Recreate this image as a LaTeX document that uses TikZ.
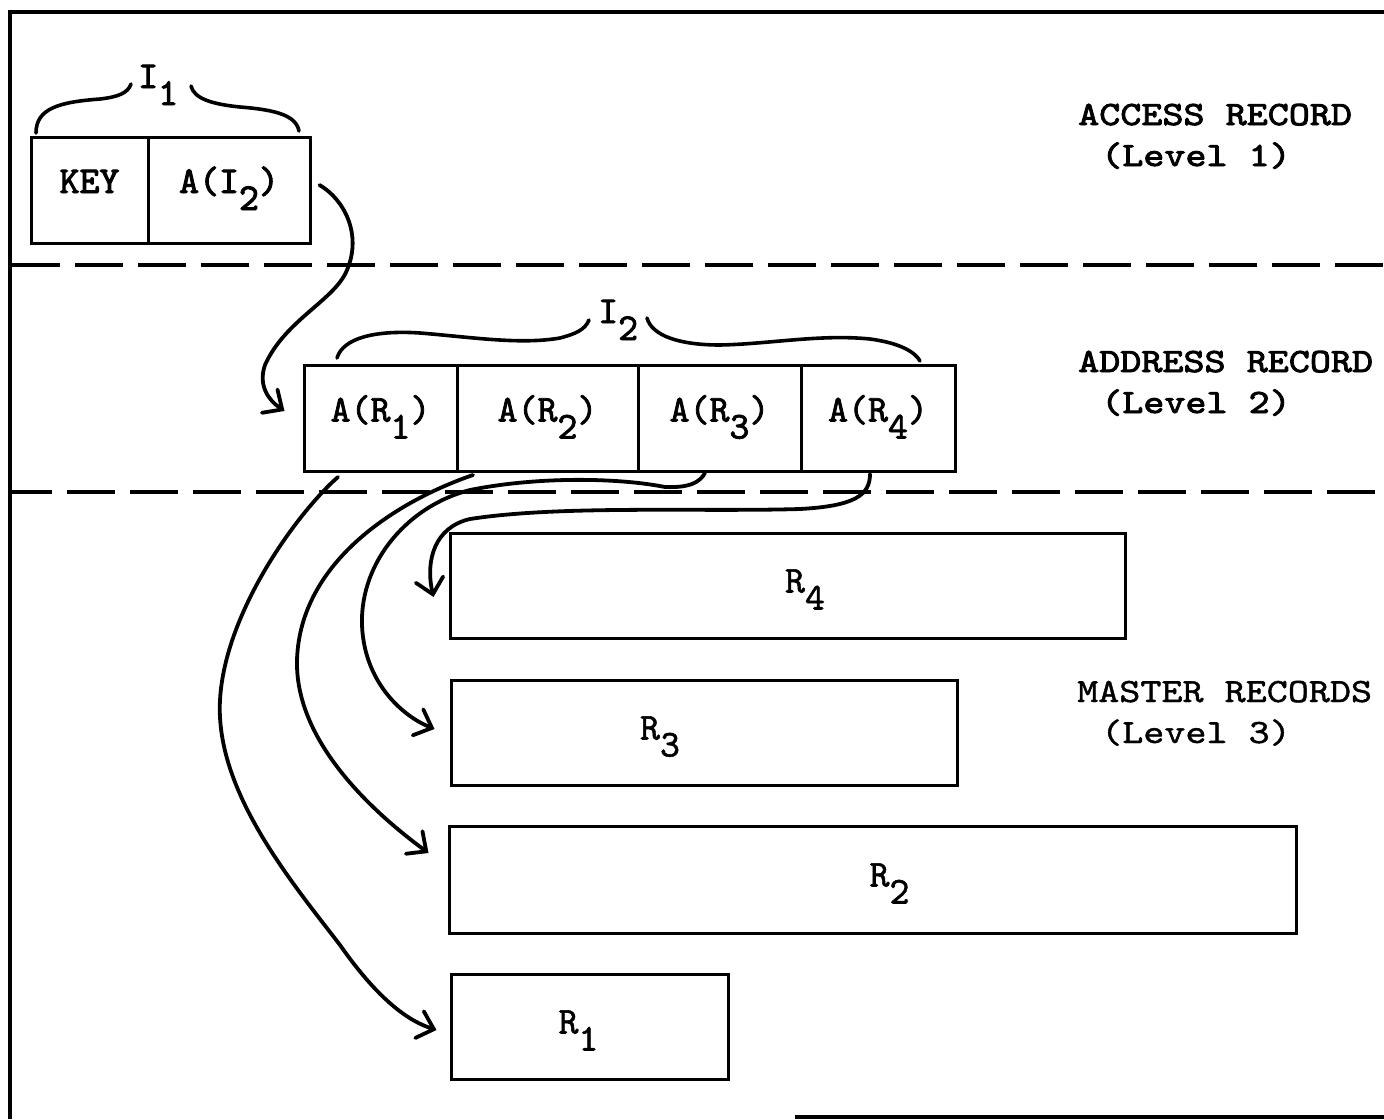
\documentclass[tikz,border=0pt]{standalone}
\usepackage{fontspec}
\usetikzlibrary{arrows.meta,calc}
% typewriter faces: widened for the level captions, plain for the record fields
\newfontfamily\sidefont{lmmono10-regular.otf}[FakeStretch=1.18,FakeBold=1.2]
\newfontfamily\sideheavy{lmmono10-regular.otf}[FakeStretch=1.18,FakeBold=2.6]
\newfontfamily\fieldfont{lmmono10-regular.otf}[FakeBold=1.4]
\newfontfamily\fieldmid{lmmono10-regular.otf}[FakeBold=2]
\newfontfamily\fieldheavy{lmmono10-regular.otf}[FakeBold=2.6]
% typewriter-style subscript: full-size digit dropped below the line
\newcommand\lowsub[1]{\raisebox{-17pt}{#1}}

\begin{document}
\begin{tikzpicture}[x=1pt,y=-1pt,
  rule/.style={line width=3.6pt},
  sepline/.style={line width=3.4pt, dash pattern=on 48pt off 15pt},
  field/.style={draw, line width=3pt, inner sep=0pt, minimum height=106pt,
    text height=23pt, text depth=17pt},
  record/.style={draw, line width=3pt, inner sep=0pt, minimum height=105pt},
  rlabel/.style={inner sep=0pt, text height=23pt, text depth=17pt,
    font=\fieldfont\fontsize{38}{40}\selectfont},
  brace/.style={line width=3.6pt, line cap=round},
  link/.style={line width=3.8pt, line cap=round,
    -{Straight Barb[length=15pt,width=28pt,line cap=round]}},
  caption/.style={anchor=base west, inner sep=0pt}
]
\useasboundingbox (0,0) rectangle (1384,1119);
\fill[white] (0,0) rectangle (1384,1119);

% outer frame
\draw[rule] (1384,12) -- (10,12) -- (10,1119);
\draw[rule] (795,1117) -- (1384,1117);

% level separators
\draw[sepline] (12,265) -- (1384,265);
\draw[sepline, dash phase=8pt] (12,492) -- (1384,492);

% level 1: access record
\node[field, minimum width=117pt, font=\fieldheavy\fontsize{38}{40}\selectfont] (key) at (89.5,190) {KEY};
\node[field, minimum width=162pt, font=\fieldheavy\fontsize{38}{40}\selectfont] (ai2) at (229,190) {A(I\lowsub{2})};

\draw[brace] (36,133) .. controls (36,108) and (60,102) .. (100,99)
             .. controls (118,97) and (128,93) .. (131,84);
\draw[brace] (191,86) .. controls (194,98) and (210,104) .. (240,107)
             .. controls (278,110) and (296,116) .. (299,131);
\node[caption, font=\fieldheavy\fontsize{38}{40}\selectfont] (i1) at (138,88) {I\lowsub{1}};

% level 2: address record
\begin{scope}[every node/.append style={font=\fieldmid\fontsize{38}{40}\selectfont}]
\node[field, minimum width=153pt] (ar1) at (380.5,418.5) {A(R\lowsub{1})};
\node[field, minimum width=181pt] (ar2) at (547.5,418.5) {A(R\lowsub{2})};
\node[field, minimum width=163pt] (ar3) at (719.5,418.5) {A(R\lowsub{3})};
\node[field, minimum width=154pt] (ar4) at (878,418.5) {A(R\lowsub{4})};
\node[caption] (i2) at (598,323) {I\lowsub{2}};
\end{scope}

\draw[brace] (337,358) .. controls (343,338) and (375,330) .. (420,333)
             .. controls (470,337) and (520,345) .. (560,338)
             .. controls (575,334) and (585,330) .. (589,320);
\draw[brace] (647,318) .. controls (652,336) and (680,345) .. (720,345)
             .. controls (770,344) and (820,334) .. (870,339)
             .. controls (900,343) and (915,352) .. (920,361);

% level 3: master records
\node[record, minimum width=675pt, label={[rlabel, xshift=17.5pt, yshift=-4pt]center:R\lowsub{4}}] (r4) at (787.5,585.5) {};
\node[record, minimum width=506pt, label={[rlabel, xshift=-44pt, yshift=-4pt]center:R\lowsub{3}}] (r3) at (704,732.5) {};
\node[record, minimum width=847pt, minimum height=107pt, label={[rlabel, xshift=17pt, yshift=-4pt]center:R\lowsub{2}}] (r2) at (872.5,879.5) {};
\node[record, minimum width=277pt, label={[rlabel, xshift=-11pt, yshift=-4pt]center:R\lowsub{1}}] (r1) at (589.5,1026.5) {};

% level captions
\node[caption, font=\sideheavy\fontsize{34}{40}\selectfont] (cap1a) at (1078,125) {ACCESS RECORD};
\node[caption, font=\sideheavy\fontsize{34}{40}\selectfont] (cap1b) at (1101,166) {(Level 1)};
\node[caption, font=\sideheavy\fontsize{34}{40}\selectfont] (cap2a) at (1078,372) {ADDRESS RECORD};
\node[caption, font=\sideheavy\fontsize{34}{40}\selectfont] (cap2b) at (1101,413) {(Level 2)};
\node[caption, font=\sidefont\fontsize{34}{40}\selectfont] (cap3a) at (1077,702) {MASTER RECORDS};
\node[caption, font=\sidefont\fontsize{34}{40}\selectfont] (cap3b) at (1101,743) {(Level 3)};

% pointer from the access record to the address record
\draw[link] ($(ai2.east)+(8,-5)$) .. controls (345,200) and (362,235) .. (347,270)
            .. controls (335,300) and (285,320) .. (265,365)
            .. controls (258,385) and (268,400) .. ($(ar1.west)+(-18,-7.5)$);

% pointers from the address record to the master records
\draw[link] ($(ar1.south)+(-42.5,4)$) .. controls (300,510) and (225,610) .. (220,700)
            .. controls (215,790) and (290,880) .. (340,945)
            .. controls (375,995) and (405,1020) .. ($(r1.west)+(-13,3.5)$);
\draw[link] ($(ar2.south)+(-74.5,2)$) .. controls (400,500) and (300,560) .. (297,660)
            .. controls (295,740) and (370,810) .. ($(r2.west)+(-19,-26.5)$);
\draw[link] ($(ar3.south)+(-14.5,0)$) .. controls (700,482) and (690,488) .. (665,487)
            .. controls (620,478) and (540,476) .. (470,490)
            .. controls (410,505) and (360,560) .. (362,625)
            .. controls (364,680) and (400,715) .. ($(r3.west)+(-15,-3.5)$);
\draw[link] ($(ar4.south)+(-8,1)$) .. controls (870,495) and (855,506) .. (800,509)
            .. controls (700,512) and (560,505) .. (470,519)
            .. controls (435,527) and (425,560) .. ($(r4.west)+(-15,11.5)$);
\end{tikzpicture}
\end{document}
